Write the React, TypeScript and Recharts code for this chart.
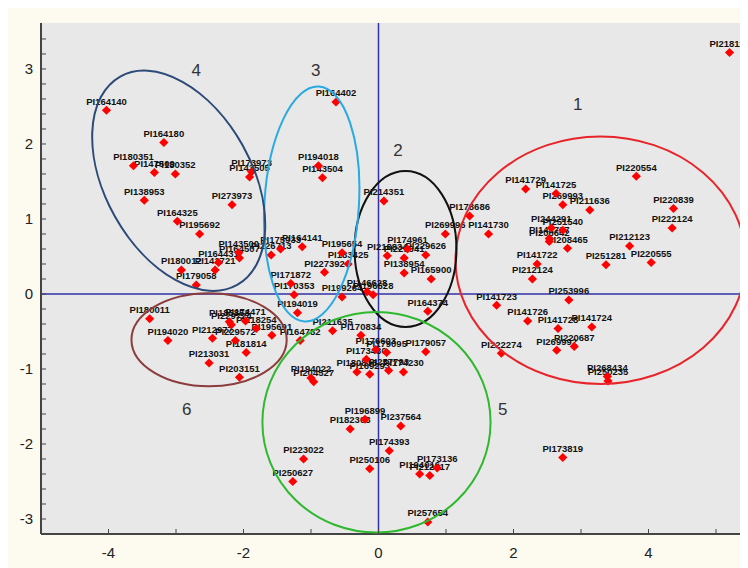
import React from "react"
import {
    ScatterChart,
    Scatter,
    XAxis,
    YAxis,
    CartesianGrid,
    ReferenceLine
} from "recharts"

// [name, x, y], grouped by cluster
const cluster1: [string, number, number][] = [
    ["PI218116", 5.2, 3.22], ["PI220554", 3.82, 1.57], ["PI141729", 2.18, 1.4],
    ["PI141725", 2.63, 1.34], ["PI269993", 2.73, 1.19], ["PI211636", 3.13, 1.12],
    ["PI220839", 4.37, 1.14], ["PI222124", 4.35, 0.88], ["PI178686", 1.35, 1.04],
    ["PI269996", 0.99, 0.8], ["PI141730", 1.63, 0.8], ["PI244291", 2.56, 0.88],
    ["PI251540", 2.73, 0.85], ["PI141727", 2.53, 0.74], ["PI208642", 2.53, 0.7],
    ["PI208465", 2.8, 0.61], ["PI212123", 3.72, 0.64], ["PI220555", 4.04, 0.42],
    ["PI251281", 3.37, 0.39], ["PI141722", 2.35, 0.4], ["PI212124", 2.28, 0.2],
    ["PI253996", 2.82, -0.08], ["PI141723", 1.75, -0.15], ["PI141726", 2.21, -0.36],
    ["PI141728", 2.66, -0.46], ["PI141724", 3.16, -0.44], ["PI269992", 2.64, -0.75],
    ["PI220687", 2.9, -0.7], ["PI222274", 1.82, -0.79], ["PI268434", 3.39, -1.1],
    ["PI250235", 3.4, -1.16]
]

const cluster2: [string, number, number][] = [
    ["PI214351", 0.08, 1.24], ["PI174961", 0.43, 0.6], ["PI218834", 0.13, 0.51],
    ["PI229641", 0.38, 0.48], ["PI229626", 0.7, 0.52], ["PI138954", 0.38, 0.28],
    ["PI165900", 0.78, 0.2], ["PI164374", 0.73, -0.23], ["PI146628", -0.17, 0.03],
    ["PI196628", -0.08, -0.01]
]

const cluster3: [string, number, number][] = [
    ["PI164402", -0.63, 2.56], ["PI194018", -0.89, 1.71], ["PI143504", -0.83, 1.55],
    ["PI226713", -1.59, 0.52], ["PI175933", -1.45, 0.6], ["PI164141", -1.13, 0.63],
    ["PI195654", -0.54, 0.55], ["PI183425", -0.45, 0.4], ["PI227392", -0.8, 0.29],
    ["PI171872", -1.3, 0.14], ["PI170353", -1.25, -0.01], ["PI199264", -0.54, -0.04],
    ["PI194019", -1.2, -0.25]
]

const cluster4: [string, number, number][] = [
    ["PI164140", -4.03, 2.45], ["PI164180", -3.18, 2.02], ["PI180351", -3.63, 1.71],
    ["PI147509", -3.32, 1.62], ["PI180352", -3.01, 1.6], ["PI138953", -3.47, 1.25],
    ["PI173973", -1.88, 1.63], ["PI143505", -1.91, 1.56], ["PI273973", -2.17, 1.19],
    ["PI164325", -2.98, 0.97], ["PI195692", -2.65, 0.8], ["PI143500", -2.07, 0.55],
    ["PI164507", -2.06, 0.48], ["PI164431", -2.37, 0.42], ["PI180012", -2.92, 0.32],
    ["PI141721", -2.42, 0.32], ["PI179058", -2.7, 0.12]
]

const cluster5: [string, number, number][] = [
    ["PI211635", -0.68, -0.49], ["PI170834", -0.26, -0.55], ["PI164782", -1.16, -0.62],
    ["PI179057", 0.7, -0.77], ["PI176603", -0.04, -0.74], ["PI179095", 0.12, -0.78],
    ["PI173430", -0.18, -0.87], ["PI180838", -0.32, -1.04], ["PI169293", -0.13, -1.07],
    ["PI257793", 0.15, -1.02], ["PI174230", 0.37, -1.04], ["PI194022", -1.0, -1.12],
    ["PI204527", -0.96, -1.17], ["PI196899", -0.2, -1.67], ["PI182308", -0.42, -1.8],
    ["PI237564", 0.33, -1.76], ["PI174393", 0.16, -2.09], ["PI223022", -1.11, -2.2],
    ["PI250627", -1.27, -2.5], ["PI250106", -0.13, -2.33], ["PI173136", 0.87, -2.32],
    ["PI194016", 0.61, -2.4], ["PI212617", 0.76, -2.42], ["PI257654", 0.73, -3.04],
    ["PI173819", 2.73, -2.18]
]

const cluster6: [string, number, number][] = [
    ["PI180011", -3.39, -0.33], ["PI194020", -3.12, -0.62], ["PI212977", -2.46, -0.59],
    ["PI185853", -2.21, -0.37], ["PI229724", -2.18, -0.41], ["PI174471", -1.97, -0.36],
    ["PI218254", -1.81, -0.46], ["PI229572", -2.12, -0.62], ["PI195691", -1.58, -0.55],
    ["PI181814", -1.96, -0.78], ["PI213031", -2.51, -0.92], ["PI203151", -2.06, -1.11]
]

// cluster outlines: [label, cx, cy, rx, ry, rotation deg, colour]
const ellipses: [string, number, number, number, number, number, string][] = [
    ["1", 3.29, 0.45, 2.15, 1.65, 0, "#e8242a"],
    ["2", 0.4, 0.6, 0.755, 1.04, 0, "#111111"],
    ["3", -0.99, 1.2, 0.7, 1.57, 3.5, "#2aaae2"],
    ["4", -2.96, 1.51, 1.77, 0.975, 60.7, "#2c4a78"],
    ["5", -0.03, -1.71, 1.69, 1.47, 0, "#2eb82e"],
    ["6", -2.51, -0.61, 1.15, 0.62, 0, "#8c3c3c"]
]

// cluster numbers: [text, x, y]
const clusterLabels: [string, number, number][] = [
    ["1", 2.95, 2.53], ["2", 0.29, 1.92], ["3", -0.93, 2.99],
    ["4", -2.7, 2.99], ["5", 1.84, -1.54], ["6", -2.84, -1.54]
]

const xTicks = [-5, -4, -3, -2, -1, 0, 1, 2, 3, 4, 5]
const xLabels = [-4, -2, 0, 2, 4]
const yTicks = [
    -3.2, -3, -2.8, -2.6, -2.4, -2.2, -2, -1.8, -1.6, -1.4, -1.2, -1, -0.8, -0.6,
    -0.4, -0.2, 0, 0.2, 0.4, 0.6, 0.8, 1, 1.2, 1.4, 1.6, 1.8, 2, 2.2, 2.4, 2.6,
    2.8, 3, 3.2, 3.4
]
const yLabels = [-3, -2, -1, 0, 1, 2, 3]

const W = 740
const H = 560
const MARGIN = { top: 15, right: 0, bottom: 0, left: 0 }
const Y_AXIS_W = 33
const X_AXIS_H = 34
const X_DOMAIN = [-5, 5.474]
const Y_DOMAIN = [-3.2, 3.613]
const PX_X = (W - Y_AXIS_W) / (X_DOMAIN[1] - X_DOMAIN[0])
const PX_Y = (H - MARGIN.top - X_AXIS_H) / (Y_DOMAIN[1] - Y_DOMAIN[0])

const FONT = "'Liberation Sans', Arial, sans-serif"

const points = [...cluster1, ...cluster2, ...cluster3, ...cluster4, ...cluster5, ...cluster6]
    .map(([name, x, y]) => ({ name, x, y }))
const ellipseData = ellipses.map(([label, x, y, rx, ry, rot, color]) => ({ label, x, y, rx, ry, rot, color }))
const numberData = clusterLabels.map(([text, x, y]) => ({ text, x, y }))

const isIn = (list: number[], v: number) => list.some(l => Math.abs(l - v) < 1e-6)

const XTick = (props: any) => {
    const { x, y, payload } = props
    return (
        <g>
            <line x1={x} x2={x} y1={y} y2={y - 5} stroke="#444" strokeWidth={1} />
            {isIn(xLabels, payload.value) && (
                <text x={x} y={y + 24} textAnchor="middle" fontSize={15} fill="#222" fontFamily={FONT}>
                    {payload.value}
                </text>
            )}
        </g>
    )
}

const YTick = (props: any) => {
    const { x, y, payload } = props
    return (
        <g>
            <line x1={x} x2={x + 5} y1={y} y2={y} stroke="#444" strokeWidth={1} />
            {isIn(yLabels, payload.value) && (
                <text x={x - 8} y={y + 5} textAnchor="end" fontSize={15} fill="#222" fontFamily={FONT}>
                    {Math.round(payload.value)}
                </text>
            )}
        </g>
    )
}

const Diamond = (props: any) => {
    const { cx, cy } = props
    const r = 4.6
    return <polygon points={`${cx},${cy - r} ${cx + r},${cy} ${cx},${cy + r} ${cx - r},${cy}`} fill="#ff0000" />
}

const PointLabel = (props: any) => {
    const { cx, cy } = props
    const name = props.payload?.name ?? props.name
    return (
        <text x={cx} y={cy - 5.5} textAnchor="middle" fontSize={9.5} fontWeight="bold" fill="#111" fontFamily={FONT}>
            {name}
        </text>
    )
}

const EllipseShape = (props: any) => {
    const { cx, cy } = props
    const d = props.payload ?? props
    return (
        <ellipse
            cx={cx}
            cy={cy}
            rx={d.rx * PX_X}
            ry={d.ry * PX_Y}
            transform={`rotate(${d.rot} ${cx} ${cy})`}
            fill="none"
            stroke={d.color}
            strokeWidth={2}
        />
    )
}

const NumberShape = (props: any) => {
    const { cx, cy } = props
    const d = props.payload ?? props
    return (
        <text x={cx} y={cy + 6} textAnchor="middle" fontSize={17} fill="#333" fontFamily={FONT}>
            {d.text}
        </text>
    )
}

export default function App() {
    return (
        <div style={{ width: W, height: H, background: "#fdfbf0" }}>
            <ScatterChart width={W} height={H} margin={MARGIN}>
                <CartesianGrid fill="#e8e8e8" horizontal={false} vertical={false} />
                <XAxis
                    type="number"
                    dataKey="x"
                    domain={X_DOMAIN}
                    ticks={xTicks}
                    allowDataOverflow
                    height={X_AXIS_H}
                    tickSize={0}
                    tickMargin={0}
                    tickLine={false}
                    axisLine={{ stroke: "#444", strokeWidth: 2 }}
                    tick={<XTick />}
                    interval={0}
                />
                <YAxis
                    type="number"
                    dataKey="y"
                    domain={Y_DOMAIN}
                    ticks={yTicks}
                    allowDataOverflow
                    width={Y_AXIS_W}
                    tickSize={0}
                    tickMargin={0}
                    tickLine={false}
                    axisLine={{ stroke: "#444", strokeWidth: 2 }}
                    tick={<YTick />}
                    interval={0}
                />
                <ReferenceLine x={0} stroke="#3232a8" strokeWidth={1.5} />
                <ReferenceLine y={0} stroke="#3232a8" strokeWidth={1.5} />
                <Scatter data={points} shape={<PointLabel />} isAnimationActive={false} />
                <Scatter data={points} shape={<Diamond />} isAnimationActive={false} />
                <Scatter data={ellipseData} shape={<EllipseShape />} isAnimationActive={false} />
                <Scatter data={numberData} shape={<NumberShape />} isAnimationActive={false} />
            </ScatterChart>
        </div>
    )
}
